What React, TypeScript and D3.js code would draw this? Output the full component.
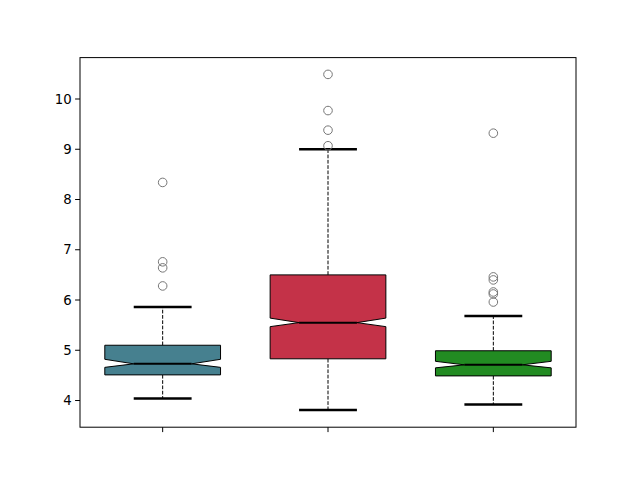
import React from "react";
import * as d3 from "d3";

const categories = ["A", "B", "C"];
const q1 = [4.51, 4.83, 4.49];
const q3 = [5.1, 6.5, 4.99];
const medians = [4.73, 5.55, 4.71];
const notchLo = [4.66, 5.47, 4.65];
const notchHi = [4.82, 5.64, 4.78];
const whiskerLo = [4.04, 3.81, 3.92];
const whiskerHi = [5.86, 9.0, 5.68];
const outliers = [
  [8.34, 6.76, 6.64, 6.28],
  [10.49, 9.77, 9.38, 9.07],
  [9.32, 6.46, 6.4, 6.16, 6.12, 5.96],
];
const colors = ["#46808f", "#c43248", "#228b22"];
const yTicks = [4, 5, 6, 7, 8, 9, 10];

export default function App() {
  const W = 640, H = 480;
  const left = 80, right = 576, top = 57.6, bottom = 427.2;
  const x = d3.scaleLinear().domain([0.5, 3.5]).range([left, right]);
  const y = d3.scaleLinear().domain([3.469, 10.824]).range([bottom, top]);
  const unit = x(2) - x(1);
  const bw = unit * 0.7;
  const cw = bw * 0.5;

  return (
    <svg width={W} height={H} style={{ position: "absolute", left: 0, top: 0 }} fontFamily="DejaVu Sans">
      <rect x={0} y={0} width={W} height={H} fill="white" />
      {categories.map((c, i) => {
        const cx = x(i + 1);
        const l = cx - bw / 2, r = cx + bw / 2;
        const cl = cx - cw / 2, cr = cx + cw / 2;
        const pts: [number, number][] = [
          [l, y(q1[i])], [r, y(q1[i])], [r, y(notchLo[i])], [cr, y(medians[i])],
          [r, y(notchHi[i])], [r, y(q3[i])], [l, y(q3[i])], [l, y(notchHi[i])],
          [cl, y(medians[i])], [l, y(notchLo[i])],
        ];
        const path = "M" + pts.map((p) => p.join(",")).join("L") + "Z";
        return (
          <g key={c}>
            <line x1={cx} x2={cx} y1={y(q1[i])} y2={y(whiskerLo[i])} stroke="black" strokeWidth={1} strokeDasharray="3.7,1.6" />
            <line x1={cx} x2={cx} y1={y(q3[i])} y2={y(whiskerHi[i])} stroke="black" strokeWidth={1} strokeDasharray="3.7,1.6" />
            <line x1={cl} x2={cr} y1={y(whiskerLo[i])} y2={y(whiskerLo[i])} stroke="black" strokeWidth={2.5} />
            <line x1={cl} x2={cr} y1={y(whiskerHi[i])} y2={y(whiskerHi[i])} stroke="black" strokeWidth={2.5} />
            <path d={path} fill={colors[i]} stroke="black" strokeWidth={1} />
            <line x1={cl} x2={cr} y1={y(medians[i])} y2={y(medians[i])} stroke="black" strokeWidth={2} />
            {outliers[i].map((v, j) => (
              <circle key={j} cx={cx} cy={y(v)} r={4.3} fill="none" stroke="#777" strokeWidth={1} />
            ))}
          </g>
        );
      })}
      <rect x={left} y={top} width={right - left} height={bottom - top} fill="none" stroke="black" strokeWidth={1} />
      {yTicks.map((t) => (
        <g key={t}>
          <line x1={left} x2={left - 4.9} y1={y(t)} y2={y(t)} stroke="black" strokeWidth={1} />
          <text x={left - 8.4} y={y(t)} dy="0.35em" textAnchor="end" fontSize={13.3}>{t}</text>
        </g>
      ))}
      {categories.map((c, i) => (
        <line key={c} x1={x(i + 1)} x2={x(i + 1)} y1={bottom} y2={bottom + 4.9} stroke="black" strokeWidth={1} />
      ))}
    </svg>
  );
}
